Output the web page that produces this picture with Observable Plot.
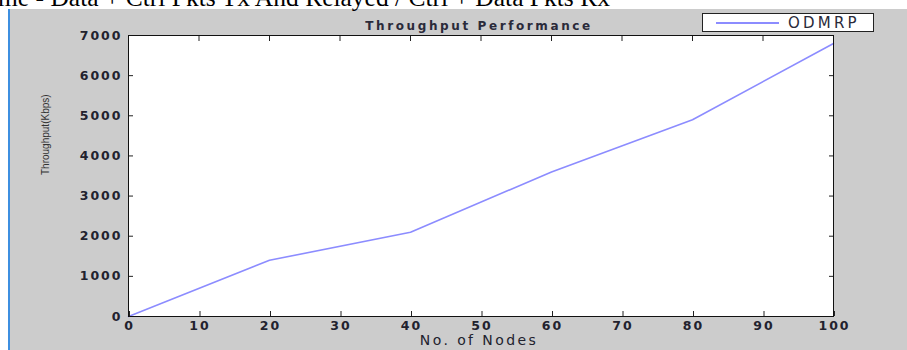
<!DOCTYPE html>
<html>
<head>
<meta charset="utf-8">
<script src="https://cdn.jsdelivr.net/npm/d3@7"></script>
<script src="https://cdn.jsdelivr.net/npm/@observablehq/plot@0.6"></script>
<style>
  html, body { margin: 0; padding: 0; background: #fff; overflow: hidden; }
  #wrap { position: relative; width: 907px; height: 350px; }
  #toptext { position: absolute; left: -2px; top: -14px; font-family: "Liberation Serif", "Times New Roman", serif; font-size: 25.5px; line-height: 24px; color: #000; white-space: nowrap; }
  #legend { position: absolute; left: 702px; top: 13px; width: 170px; height: 17px; border: 1px solid #222; background: #fff; }
  #legend .ln { position: absolute; left: 13px; top: 8px; width: 63px; height: 1.5px; background: #8c8cff; }
  #legend .tx { position: absolute; left: 85px; top: 0; line-height: 18px; font-family: "DejaVu Sans", sans-serif; font-size: 15px; letter-spacing: 3.2px; color: #2a2a3a; }
  g[aria-label="x-axis tick label"] text { letter-spacing: 2px; }
  g[aria-label="y-axis tick label"] text { letter-spacing: 2px; }
</style>
</head>
<body>
<div id="wrap"></div>
<script>
const nodes = [0, 20, 40, 60, 80, 100];
const throughput = [0, 1400, 2100, 3600, 4900, 6800];
const xTicks = [0, 10, 20, 30, 40, 50, 60, 70, 80, 90, 100];
const yTicks = [0, 1000, 2000, 3000, 4000, 5000, 6000, 7000];
const seriesName = "ODMRP";
const titleText = "Throughput Performance";
const xLabel = "No. of Nodes";
const yLabel = "Throughput(Kbps)";
const topText = "me - Data + Ctrl Pkts Tx And Relayed / Ctrl + Data Pkts Rx";

const data = nodes.map((n, i) => ({n, t: throughput[i]}));

const tickFont = {fontFamily: "DejaVu Sans, sans-serif", fontSize: 12.5, fontWeight: "bold", fill: "#22222e"};

const chart = Plot.plot({
  width: 907,
  height: 350,
  marginLeft: 128,
  marginRight: 74,
  marginTop: 35,
  marginBottom: 34,
  style: {
    background: "linear-gradient(to bottom, #fff 0px, #fff 9px, transparent 9px), linear-gradient(to right, #fff 0px, #fff 8px, #3d8fe0 8px, #3d8fe0 10px, #cccccc 10px)",
    overflow: "visible"
  },
  x: {domain: [0, 100]},
  y: {domain: [0, 7000]},
  marks: [
    Plot.frame({fill: "white"}),
    Plot.line(data, {x: "n", y: "t", stroke: "#8c8cff", strokeWidth: 1.6}),
    Plot.axisX({ticks: xTicks, tickSize: -5, tickPadding: 10, dx: 1, tickFormat: d => String(d), label: null, stroke: "#222", ...tickFont}),
    Plot.axisX({anchor: "top", ticks: xTicks, tickSize: -5, tickFormat: () => "", label: null, stroke: "#222"}),
    Plot.axisY({ticks: yTicks, tickSize: -5, tickPadding: 11, tickFormat: d => String(d), label: null, stroke: "#222", ...tickFont}),
    Plot.axisY({anchor: "right", ticks: yTicks, tickSize: -5, tickFormat: () => "", label: null, stroke: "#222"}),
    Plot.frame({stroke: "#111"}),
    Plot.text([titleText], {frameAnchor: "top", dy: -14, dx: -2, text: d => d, fontFamily: "DejaVu Sans, sans-serif", fontSize: 12, fontWeight: "bold", fill: "#2a2a3a"}),
    Plot.text([xLabel], {frameAnchor: "bottom", dy: 28.5, dx: -2, text: d => d, fontFamily: "DejaVu Sans, sans-serif", fontSize: 14, fill: "#22222e"}),
    Plot.text([yLabel], {frameAnchor: "left", dx: -83, dy: -1, rotate: -90, text: d => d, fontFamily: "Liberation Sans, Arial, sans-serif", fontSize: 10, fill: "#333"})
  ]
});

// styling: widen letter spacing of the title and x label (reference is horizontally stretched)
d3.select(chart).selectAll("text").each(function() {
  if (this.textContent === titleText) this.style.letterSpacing = "2.6px";
  if (this.textContent === xLabel) this.style.letterSpacing = "2.4px";
});

const wrap = document.getElementById("wrap");
wrap.appendChild(chart);

const tt = document.createElement("div");
tt.id = "toptext";
tt.textContent = topText;
wrap.appendChild(tt);

const lg = document.createElement("div");
lg.id = "legend";
const ln = document.createElement("div"); ln.className = "ln";
const tx = document.createElement("div"); tx.className = "tx"; tx.textContent = seriesName;
lg.appendChild(ln); lg.appendChild(tx);
wrap.appendChild(lg);
</script>
</body>
</html>
